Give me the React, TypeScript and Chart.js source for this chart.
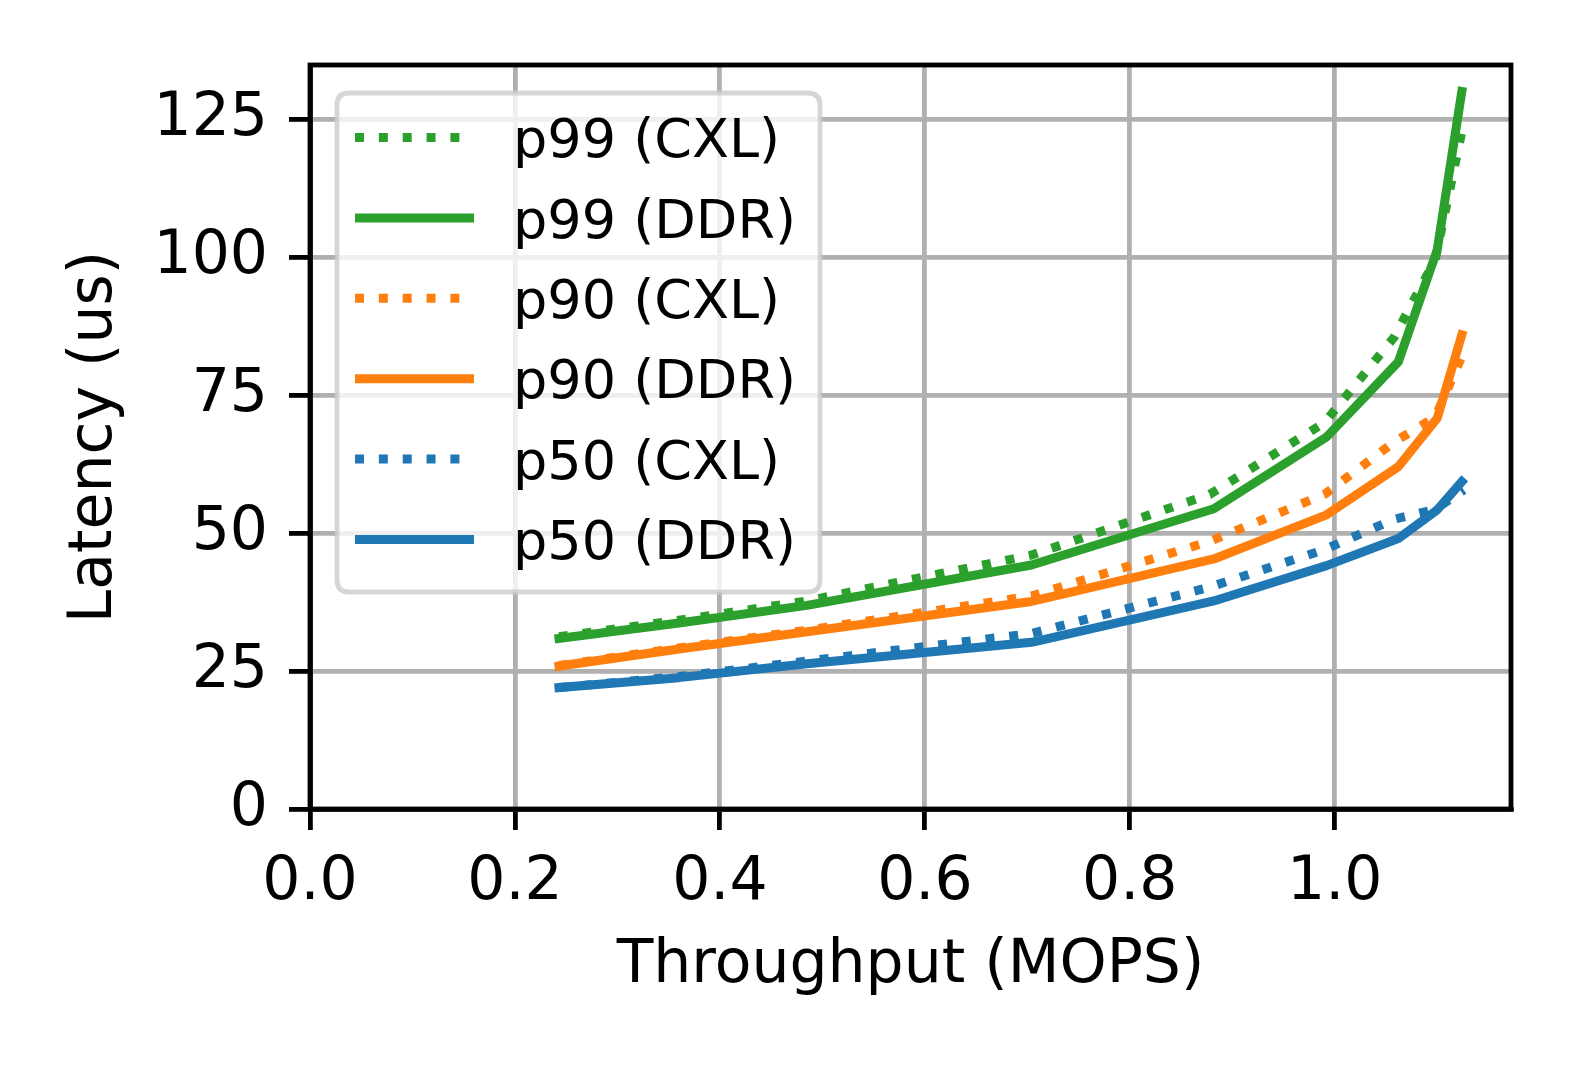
import React, { useEffect, useRef } from "react";
import { Chart, registerables } from "chart.js";

Chart.register(...registerables);

// ---- data ----
const ddrThroughput = [0.243, 0.36, 0.485, 0.704, 0.882, 0.992, 1.062, 1.1, 1.124];
const cxlThroughput = [0.243, 0.36, 0.485, 0.704, 0.878, 0.99, 1.058, 1.098, 1.126];

const p99Cxl = [31.2, 34.2, 37.7, 46.0, 57.0, 70.0, 85.5, 99.5, 124.5];
const p99Ddr = [30.9, 33.7, 36.9, 44.2, 54.4, 67.4, 81.0, 101.3, 130.0];
const p90Cxl = [26.0, 29.2, 32.4, 38.6, 48.5, 57.0, 66.5, 71.0, 82.8];
const p90Ddr = [25.9, 29.0, 32.1, 37.6, 45.3, 53.3, 62.0, 70.8, 85.9];
const p50Cxl = [22.0, 24.0, 26.8, 31.8, 40.2, 47.0, 52.5, 54.3, 57.8];
const p50Ddr = [22.0, 23.8, 26.3, 30.2, 37.7, 44.1, 49.0, 54.2, 59.3];

const seriesLabels = ["p99 (CXL)", "p99 (DDR)", "p90 (CXL)", "p90 (DDR)", "p50 (CXL)", "p50 (DDR)"];
const xTickValues = [0.0, 0.2, 0.4, 0.6, 0.8, 1.0];
const yTickValues = [0, 25, 50, 75, 100, 125];

const GREEN = "#2ca02c";
const ORANGE = "#ff7f0e";
const BLUE = "#1f77b4";
const FONT = "DejaVu Sans";
const FS = 60;
const LEGEND_FS = 54;
const LW = 9;
const DASH = [9, 14.85];

const toPoints = (xs: number[], ys: number[]) => ys.map((y, i) => ({ x: xs[i], y }));

const legendPlugin = {
  id: "mplLegend",
  afterDatasetsDraw(chart: any) {
    const { ctx, chartArea } = chart;
    // spines
    ctx.save();
    ctx.strokeStyle = "#000";
    ctx.lineWidth = 4.8;
    ctx.strokeRect(chartArea.left, chartArea.top, chartArea.right - chartArea.left, chartArea.bottom - chartArea.top);
    ctx.restore();
  },
  afterDraw(chart: any) {
    const { ctx } = chart;
    const bx = 337, by = 93, bw = 483, bh = 499, r = 12;
    ctx.save();
    ctx.beginPath();
    ctx.moveTo(bx + r, by);
    ctx.lineTo(bx + bw - r, by);
    ctx.quadraticCurveTo(bx + bw, by, bx + bw, by + r);
    ctx.lineTo(bx + bw, by + bh - r);
    ctx.quadraticCurveTo(bx + bw, by + bh, bx + bw - r, by + bh);
    ctx.lineTo(bx + r, by + bh);
    ctx.quadraticCurveTo(bx, by + bh, bx, by + bh - r);
    ctx.lineTo(bx, by + r);
    ctx.quadraticCurveTo(bx, by, bx + r, by);
    ctx.closePath();
    ctx.fillStyle = "rgba(255,255,255,0.8)";
    ctx.fill();
    ctx.strokeStyle = "rgba(204,204,204,0.8)";
    ctx.lineWidth = 4.8;
    ctx.stroke();

    const ds = chart.data.datasets;
    const rowY0 = 137.5;
    const rowStep = 80.4;
    for (let i = 0; i < ds.length; i++) {
      const y = rowY0 + i * rowStep;
      ctx.beginPath();
      ctx.strokeStyle = ds[i].borderColor;
      ctx.lineWidth = LW;
      ctx.lineCap = "butt";
      ctx.setLineDash(ds[i].borderDash || []);
      ctx.moveTo(355, y);
      ctx.lineTo(474, y);
      ctx.stroke();
      ctx.setLineDash([]);
      ctx.fillStyle = "#000";
      ctx.font = `${LEGEND_FS}px "${FONT}"`;
      ctx.textAlign = "left";
      ctx.textBaseline = "alphabetic";
      ctx.fillText(ds[i].label, 513, y + 0.3645 * LEGEND_FS);
    }
    ctx.restore();
  },
};

export default function App() {
  const canvasRef = useRef<HTMLCanvasElement | null>(null);

  useEffect(() => {
    document.body.style.margin = "0";
    const canvas = canvasRef.current;
    if (!canvas) return;
    const colors = [GREEN, GREEN, ORANGE, ORANGE, BLUE, BLUE];
    const values = [p99Cxl, p99Ddr, p90Cxl, p90Ddr, p50Cxl, p50Ddr];
    const datasets = values.map((v, i) => {
      const isCxl = i % 2 === 0;
      return {
        label: seriesLabels[i],
        data: toPoints(isCxl ? cxlThroughput : ddrThroughput, v),
        borderColor: colors[i],
        backgroundColor: colors[i],
        borderWidth: LW,
        borderDash: isCxl ? DASH : [],
        borderCapStyle: isCxl ? "butt" : "square",
        borderJoinStyle: "round",
        pointRadius: 0,
        pointHoverRadius: 0,
        tension: 0,
        fill: false,
        order: values.length - i,
      };
    });

    const chart = new Chart(canvas, {
      type: "line",
      data: { datasets } as any,
      options: {
        animation: false,
        responsive: false,
        devicePixelRatio: 1,
        layout: { padding: { left: 0, top: 65, right: 68, bottom: 0 } },
        plugins: { legend: { display: false }, tooltip: { enabled: false } },
        scales: {
          x: {
            type: "linear",
            min: 0,
            max: 1.172,
            afterFit: (s: any) => {
              s.height = 257;
            },
            afterBuildTicks: (s: any) => {
              s.ticks = xTickValues.map((v) => ({ value: v }));
            },
            ticks: {
              includeBounds: false,
              stepSize: 0.2,
              padding: 17,
              color: "#000",
              font: { family: FONT, size: FS },
              maxRotation: 0,
              autoSkip: false,
              callback: (v: any) => Number(v).toFixed(1),
            },
            grid: {
              color: "#b0b0b0",
              lineWidth: 4.8,
              tickColor: "#000",
              tickLength: 21,
              tickWidth: 4.8,
            },
            border: { display: true, color: "#000", width: 4.8 },
            title: {
              display: true,
              text: "Throughput (MOPS)",
              color: "#000",
              font: { family: FONT, size: FS },
              padding: { top: 0, bottom: 64 },
            },
          },
          y: {
            type: "linear",
            min: 0,
            max: 134.8,
            afterFit: (s: any) => {
              s.width = 310;
            },
            afterBuildTicks: (s: any) => {
              s.ticks = yTickValues.map((v) => ({ value: v }));
            },
            ticks: {
              includeBounds: false,
              stepSize: 25,
              padding: 21,
              color: "#000",
              font: { family: FONT, size: FS },
              autoSkip: false,
              callback: (v: any) => String(v),
            },
            grid: {
              color: "#b0b0b0",
              lineWidth: 4.8,
              tickColor: "#000",
              tickLength: 21,
              tickWidth: 4.8,
            },
            border: { display: true, color: "#000", width: 4.8 },
            title: {
              display: true,
              text: "Latency (us)",
              color: "#000",
              font: { family: FONT, size: FS },
              padding: { top: 59, bottom: 0 },
            },
          },
        },
      } as any,
      plugins: [legendPlugin],
    });
    return () => chart.destroy();
  }, []);

  return (
    <div style={{ position: "absolute", left: 0, top: 0, width: 1579, height: 1066, background: "#fff" }}>
      <canvas ref={canvasRef} width={1579} height={1066} style={{ display: "block" }} />
    </div>
  );
}
